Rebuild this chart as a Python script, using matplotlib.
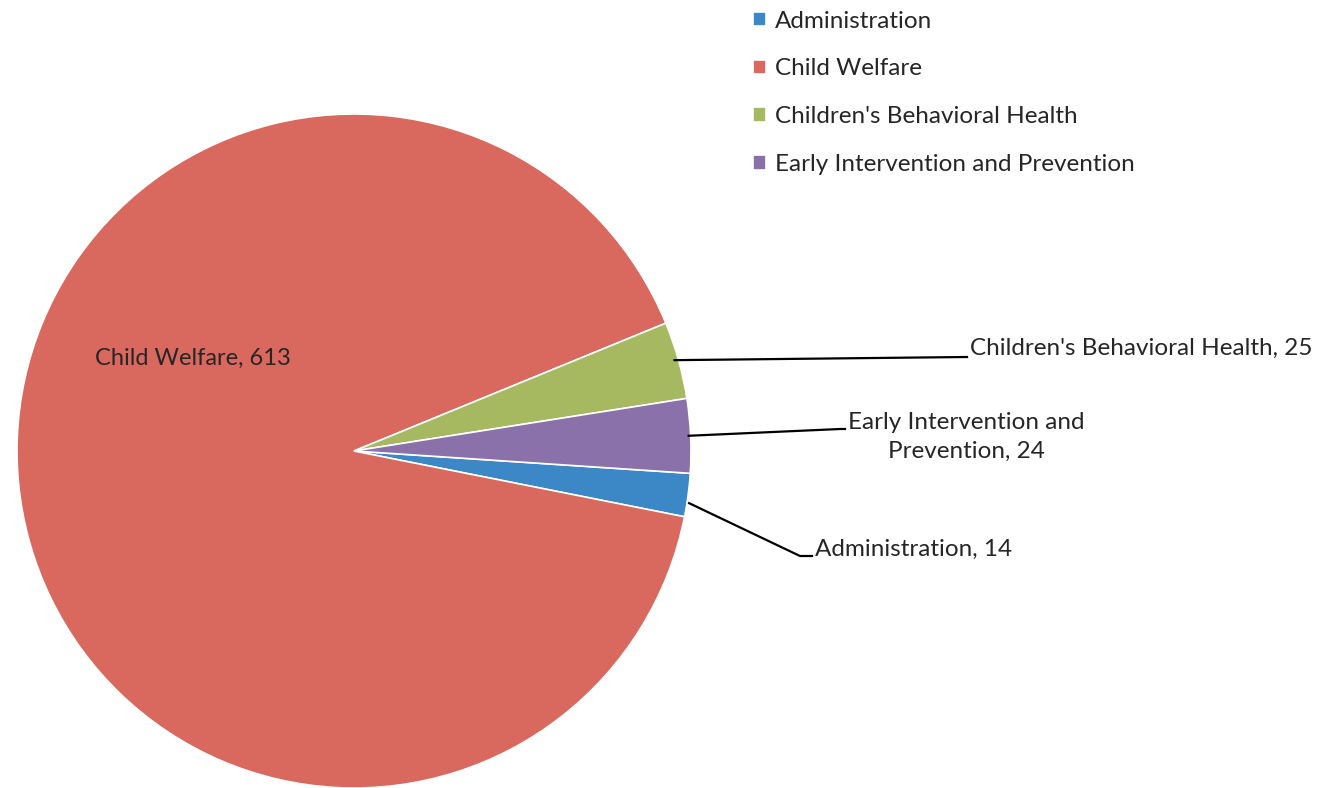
import numpy as np
import matplotlib.pyplot as plt

# Data (Excel clockwise order)
categories = ['Administration', 'Child Welfare', "Children's Behavioral Health",
              'Early Intervention and Prevention']
values = [14, 613, 25, 24]
colors = ['#3C87C5', '#D9685E', '#A7B960', '#8B71A9']

plt.rcParams['font.family'] = ['Lato', 'DejaVu Sans']

W, H = 1322, 788
fig = plt.figure(figsize=(W / 100, H / 100), dpi=100)
ax = fig.add_axes([0, 0, 1, 1])

# pie centre / radius in pixel units (y measured from the bottom)
cx, cy, r = 354, H - 451, 337

wedges, _ = ax.pie(values, colors=colors, startangle=-3.8, counterclock=False,
                   center=(cx, cy), radius=r, frame=True,
                   wedgeprops=dict(edgecolor='white', linewidth=1.2))
ax.set_xlim(0, W)
ax.set_ylim(0, H)
ax.axis('off')

fs = 17.5
txt_col = '#262626'
labels = ['%s, %d' % (c, v) for c, v in zip(categories, values)]

# Child Welfare label inside the slice
ax.text(95, H - 358, labels[1], fontsize=17, color=txt_col, va='center', ha='left')


def edge_point(w):
    ang = np.deg2rad((w.theta1 + w.theta2) / 2)
    return cx + r * np.cos(ang), cy + r * np.sin(ang)


# leader lines for the small slices
line_kw = dict(color='black', lw=1.6)
# Children's Behavioral Health
x0, y0 = edge_point(wedges[2])
ax.plot([x0 - 4, 967], [y0, H - 357], **line_kw)
ax.text(970, H - 348, labels[2], fontsize=fs, color=txt_col, va='center', ha='left')
# Early Intervention and Prevention
x0, y0 = edge_point(wedges[3])
ax.plot([x0 - 2, 840, 845], [y0, H - 429, H - 429], **line_kw)
ax.text(966, H - 437, 'Early Intervention and\nPrevention, 24', fontsize=fs,
        color=txt_col, va='center', ha='center', linespacing=1.45)
# Administration
x0, y0 = edge_point(wedges[0])
ax.plot([x0 + 1, 800, 812], [y0 - 8, H - 556, H - 556], **line_kw)
ax.text(815, H - 549, labels[0], fontsize=fs, color=txt_col, va='center', ha='left')

# legend (Excel style squares)
ax.legend(wedges, categories, loc='upper left', bbox_to_anchor=(743 / W, 1 - 1 / H),
          frameon=False, fontsize=fs, handlelength=0.55, handleheight=0.55,
          handletextpad=0.35, labelspacing=1.1, borderaxespad=0)
for t in ax.get_legend().get_texts():
    t.set_color(txt_col)

fig.savefig('out.png', dpi=100)
